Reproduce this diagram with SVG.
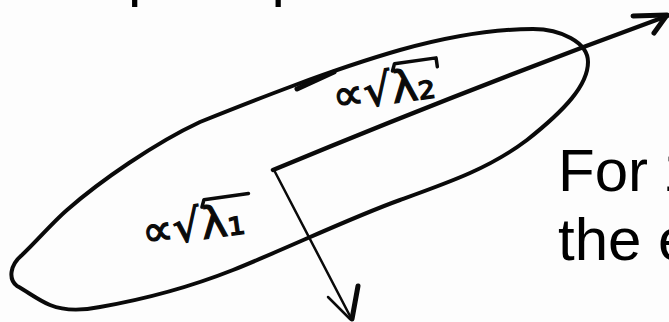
<svg xmlns="http://www.w3.org/2000/svg" width="669" height="322" viewBox="0 0 669 322">
  <style>
    .ink { fill: none; stroke: #0a0a0a; stroke-linecap: round; stroke-linejoin: round; }
    .slide { font-family: "Liberation Sans", Arial, sans-serif; font-size: 60px; fill: #000; }
    .hand { font-family: "DejaVu Sans", sans-serif; font-size: 44px; fill: #0a0a0a; stroke: #0a0a0a; stroke-width: 1.2px; }
  </style>
  <rect width="669" height="322" fill="#fdfdfd"/>

  <g id="top-text">
    <text class="slide" x="128" y="-5">principal</text>
  </g>

  <g id="ellipse">
    <path class="ink" stroke-width="4" d="M 17,286 C 8,279 10,265 22,255 C 35,243 52,223 67,210 C 100,181 155,143 200,122 C 250,102 330,70 400,50 C 450,36 495,29 533,29 C 560,29 588,42 588,62 C 588,85 565,110 527,140 C 490,168 450,182 400,200 C 350,218 290,247 233,270 C 190,287 140,300 100,307 C 80,311 62,310 50,305 C 38,300 28,292 17,286 Z"/>
    <path class="ink" stroke-width="5" d="M 297,89 L 334,72"/>
  </g>

  <g id="label-l2" transform="rotate(-8 380 90)">
    <text class="hand" x="332" y="105">∝√λ₂</text>
    <path class="ink" stroke-width="3.5" d="M 395,73 L 398,66 L 440,66 L 440,75"/>
  </g>
  <g id="label-l1" transform="rotate(-8 190 230)">
    <text class="hand" x="142" y="241">∝√λ₁</text>
    <path class="ink" stroke-width="3.5" d="M 205,209 L 208,202 L 253,202"/>
  </g>

  <g id="connectors">
    <path class="ink" stroke-width="4.5" d="M 273,170 Q 460,92 667,16"/>
    <path class="ink" stroke-width="5" d="M 633,16 L 667,15 L 654,33"/>
    <path class="ink" stroke-width="2.5" d="M 274,170 L 350,316"/>
    <path class="ink" stroke-width="2.5" d="M 328,297 L 350,319"/>
    <path class="ink" stroke-width="5" d="M 358,286 L 352,319"/>
  </g>

  <g id="text-right">
    <text class="slide" x="558" y="191">For <tspan dx="-2">1</tspan></text>
    <text class="slide" x="558" y="260">the e</text>
  </g>
</svg>
